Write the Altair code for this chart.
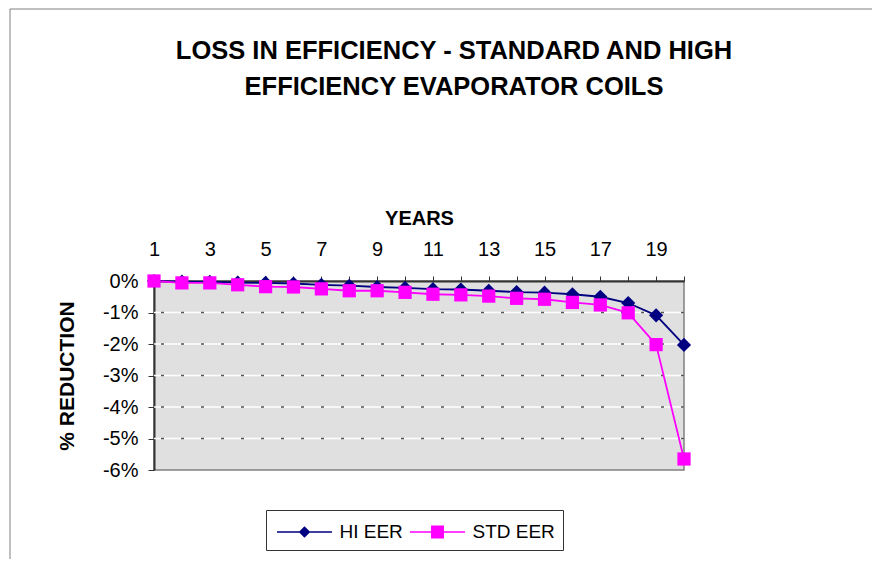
import altair as alt
import pandas as pd

years = list(range(1, 21))
hi_eer = [0, -0.02, -0.03, -0.05, -0.06, -0.08, -0.12, -0.15, -0.19, -0.22,
          -0.26, -0.27, -0.31, -0.35, -0.37, -0.42, -0.50, -0.70, -1.09, -2.03]
std_eer = [0, -0.06, -0.06, -0.12, -0.18, -0.19, -0.25, -0.31, -0.31, -0.36,
           -0.42, -0.44, -0.48, -0.55, -0.58, -0.68, -0.76, -1.01, -2.02, -5.65]
series_names = ["HI EER", "STD EER"]
series_colors = ["#000080", "#FF00FF"]
y_ticks = [0, -0.01, -0.02, -0.03, -0.04, -0.05, -0.06]
grid_vals = [-0.01, -0.02, -0.03, -0.04, -0.05]

rows = []
for y, a, b in zip(years, hi_eer, std_eer):
    rows.append({"year": y, "series": "HI EER", "value": a / 100})
    rows.append({"year": y, "series": "STD EER", "value": b / 100})
df = pd.DataFrame(rows)
grid_df = pd.DataFrame({"g": grid_vals})
frame_df = pd.DataFrame({"k": [0]})

FONT = "Liberation Sans"

xscale = alt.Scale(domain=[1, 20], nice=False, zero=False)
yscale = alt.Scale(domain=[-0.06, 0], nice=False, zero=False)
color_scale = alt.Scale(domain=series_names, range=series_colors)

# legend glyphs: a short line with the marker in the middle
legend_paths = [
    "M-0.8,-0.06H3.2V0.06H-0.8ZM1.2,-0.42L1.62,0L1.2,0.42L0.78,0Z",
    "M-0.8,-0.06H3.2V0.06H-0.8ZM0.73,-0.47H1.67V0.47H0.73Z",
]

legend = alt.Legend(
    title=None,
    orient="none",
    legendX=112,
    legendY=229,
    direction="horizontal",
    strokeColor="#333333",
    padding=8,
    labelFontSize=19,
    labelFont=FONT,
    labelColor="black",
    labelOffset=37.5,
    columnPadding=4,
    symbolSize=756,
    symbolOpacity=1,
    symbolStrokeWidth=0,
)

x_axis = alt.Axis(
    orient="top",
    values=years,
    labelExpr="datum.value % 2 == 1 ? datum.value : ''",
    title="YEARS",
    titleFontSize=20,
    titleFontWeight="bold",
    titleFont=FONT,
    titlePadding=11,
    labelFontSize=20,
    labelFont=FONT,
    labelColor="black",
    labelPadding=17,
    tickSize=5,
    tickColor="#333333",
    domainColor="#333333",
    domainWidth=2,
    grid=False,
    labelFlush=False,
)
y_axis = alt.Axis(
    values=y_ticks,
    labelExpr="round(datum.value * 100) + '%'",
    title="% REDUCTION",
    titleFontSize=21,
    titleFontWeight="bold",
    titleFont=FONT,
    titlePadding=25,
    labelFontSize=20,
    labelFont=FONT,
    labelColor="black",
    labelPadding=10,
    tickSize=6,
    tickColor="#333333",
    domainColor="#333333",
    domainWidth=2,
    grid=False,
)

x_enc = alt.X("year:Q", scale=xscale, axis=x_axis)
y_enc = alt.Y("value:Q", scale=yscale, axis=y_axis)
color_enc = alt.Color("series:N", scale=color_scale, legend=legend)

frame = alt.Chart(frame_df).mark_rect(
    fillOpacity=0, stroke="#808080", strokeWidth=1
).encode(
    x=alt.value(-144), x2=alt.value(730), y=alt.value(-272), y2=alt.value(320)
)

grid_white = alt.Chart(grid_df).mark_rule(color="white", strokeWidth=1.5).encode(
    y=alt.Y("g:Q", scale=yscale, axis=y_axis)
)
grid_dash = alt.Chart(grid_df).mark_rule(
    color="#555555", strokeWidth=1.5, strokeDash=[3, 17]
).encode(y=alt.Y("g:Q", scale=yscale, axis=y_axis))

lines = alt.Chart(df).mark_line(strokeWidth=1.8).encode(
    x=x_enc,
    y=y_enc,
    color=color_enc,
)

hi_points = alt.Chart(df).transform_filter(
    "datum.series == 'HI EER'"
).mark_point(filled=True, opacity=1, shape="diamond", size=200).encode(
    x=x_enc,
    y=y_enc,
    color=color_enc,
)
std_points = alt.Chart(df).transform_filter(
    "datum.series == 'STD EER'"
).mark_point(filled=True, opacity=1, shape="square", size=175).encode(
    x=x_enc,
    y=y_enc,
    color=color_enc,
)

# layer that draws nothing, only carries the legend glyph shapes
legend_layer = alt.Chart(df).transform_filter("datum.year < 0").mark_point(
    filled=True, opacity=1
).encode(
    x=x_enc,
    y=y_enc,
    color=color_enc,
    shape=alt.Shape(
        "series:N",
        scale=alt.Scale(domain=series_names, range=legend_paths),
        legend=legend,
    ),
)

chart = alt.layer(
    frame, grid_white, grid_dash, lines, hi_points, std_points, legend_layer
).properties(
    width=530,
    height=189,
    autosize=alt.AutoSizeParams(type="none"),
    padding={"left": 146, "top": 273, "right": 188, "bottom": 89},
    background="white",
    title=alt.TitleParams(
        text=["LOSS IN EFFICIENCY - STANDARD AND HIGH", "EFFICIENCY EVAPORATOR COILS"],
        fontSize=25.5,
        fontWeight="bold",
        font=FONT,
        color="black",
        lineHeight=36,
        anchor="middle",
        dx=35,
        offset=-91.5,
    ),
).configure_view(
    fill="#e0e0e0", stroke="#808080", strokeWidth=1.5
)

chart.save("out.html", embed_options={"renderer": "svg", "actions": False})
